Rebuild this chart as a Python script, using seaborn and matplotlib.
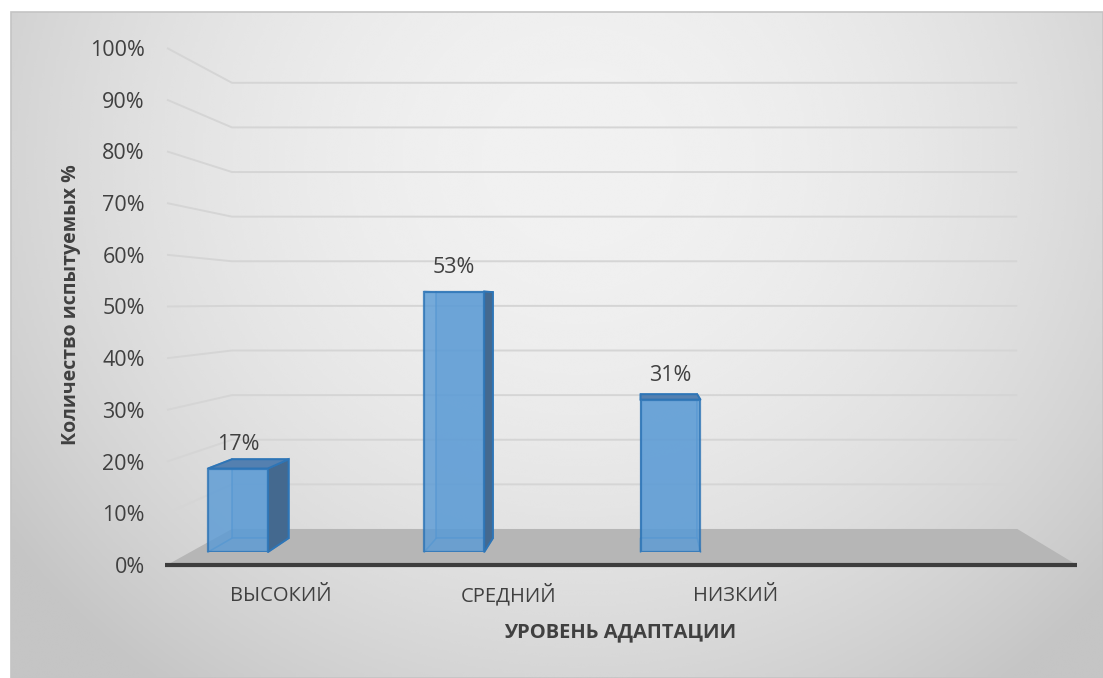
import numpy as np
import pandas as pd
import matplotlib
matplotlib.use("Agg")
import matplotlib.pyplot as plt
import seaborn as sns
from matplotlib.patches import Polygon, Rectangle

# ---------------- data ----------------
categories = ["ВЫСОКИЙ", "СРЕДНИЙ", "НИЗКИЙ"]
values = [17, 53, 31]
y_ticks = [0, 10, 20, 30, 40, 50, 60, 70, 80, 90, 100]
y_tick_labels = [f"{v}%" for v in y_ticks]
x_title = "УРОВЕНЬ АДАПТАЦИИ"
y_title = "Количество испытуемых %"
n_slots = 4  # category slots on the floor (last one empty)

# ---------------- style ----------------
sns.set_theme(style="white")
plt.rcParams["font.family"] = ["Open Sans", "DejaVu Sans"]
TXT = "#404040"

W, H = 1103, 678
fig = plt.figure(figsize=(W / 100, H / 100), dpi=100)
fig.patch.set_facecolor("white")

def frac(x0, y0, x1, y1):
    """pixel box (y down) -> figure fraction [l, b, w, h]"""
    return [x0 / W, 1 - y1 / H, (x1 - x0) / W, (y1 - y0) / H]

# perspective model (pixel coordinates, y down)
VX, VY = 641.0, 302.0          # vanishing point
S_BACK = 0.863                 # back wall scale relative to front plane
S_BAR_F = 0.951                # front of bars
S_BAR_B = 0.898                # back of bars

def proj(p, s):
    return (VX + s * (p[0] - VX), VY + s * (p[1] - VY))

# front plane extents
FX0, FX1, FY0, FY1 = 167, 1077, 48, 565

# ---------------- background axes (pixel coords) ----------------
ax_bg = fig.add_axes([0, 0, 1, 1])
ax_bg.set_xlim(0, W)
ax_bg.set_ylim(H, 0)
ax_bg.axis("off")

gx, gy = np.meshgrid(np.linspace(0, 1, 400), np.linspace(0, 1, 300))
r2 = ((gx - 0.52) / 0.62) ** 2 + ((gy - 0.22) / 0.95) ** 2
grad = np.clip(0.945 - 0.16 * r2, 0.77, 0.95)
ax_bg.imshow(grad, cmap="gray", vmin=0, vmax=1, extent=(11, W, H, 12),
             aspect="auto", zorder=0, interpolation="bicubic")
ax_bg.add_patch(Rectangle((11, 12), W - 11, H - 12, fill=False,
                          edgecolor="#c4c4c4", lw=1.2, zorder=1))

# ---------------- front plane axes (ticks + labels) ----------------
ax_front = fig.add_axes(frac(FX0, FY0, FX1, FY1))
ax_front.set_xlim(-0.5, n_slots - 0.5)
ax_front.set_ylim(0, 100)
ax_front.patch.set_alpha(0)
for sp in ax_front.spines.values():
    sp.set_visible(False)
ax_front.set_yticks(y_ticks)
ax_front.set_yticklabels(y_tick_labels, fontsize=15.5, color=TXT)
ax_front.set_xticks(range(len(categories)))
ax_front.set_xticklabels(categories, fontsize=14.5, color=TXT, va="baseline")
ax_front.tick_params(axis="y", length=0, pad=16)
ax_front.tick_params(axis="x", length=0, pad=26)
ax_front.set_xlabel(x_title, fontsize=14.5, fontweight="bold", color=TXT)
ax_front.set_ylabel(y_title, fontsize=14, fontweight="bold", color=TXT)
ax_front.xaxis.set_label_coords((620 - FX0) / (FX1 - FX0), -(622 - FY1) / (FY1 - FY0))
ax_front.yaxis.set_label_coords(-(FX0 - 81) / (FX1 - FX0), (FY1 - 305) / (FY1 - FY0))

fig.canvas.draw()

def to_px(ax, x, y):
    X, Y = ax.transData.transform((x, y))
    return (X, H - Y)

# grid lines: left wall diagonals + back wall horizontals
x_right_front = to_px(ax_front, n_slots - 0.5, 0)[0]
for v in y_ticks[1:]:
    f = to_px(ax_front, -0.5, v)
    b = proj(f, S_BACK)
    br = proj((x_right_front, f[1]), S_BACK)
    ax_bg.plot([f[0], b[0], br[0]], [f[1], b[1], br[1]], color="#d5d5d5",
               lw=1.4, zorder=2, solid_capstyle="butt")

# floor
fl = to_px(ax_front, -0.5, 0)
fr = to_px(ax_front, n_slots - 0.5, 0)
floor = [fl, fr, proj(fr, S_BACK), proj(fl, S_BACK)]
ax_bg.add_patch(Polygon(floor, closed=True, facecolor="#b6b6b6",
                        edgecolor="none", zorder=3))
ax_bg.plot([fl[0] - 2, fr[0]], [fl[1], fr[1]], color="#3d3d3d", lw=3,
           zorder=4, solid_capstyle="butt")

# ---------------- bar axes (plane of the bar fronts) ----------------
bx0, by0 = proj((FX0, FY0), S_BAR_F)
bx1, by1 = proj((FX1, FY1), S_BAR_F)
ax_bar = fig.add_axes(frac(bx0, by0, bx1, by1))
df = pd.DataFrame({"category": categories, "value": values})
sns.barplot(data=df, x="category", y="value", ax=ax_bar, width=0.277,
            color="#5b9bd5", saturation=1, alpha=0.82,
            edgecolor="#2e75b6", linewidth=1.6)
shift = 0.28
ax_bar.set_xlim(-0.5 + shift, n_slots - 0.5 + shift)
ax_bar.set_ylim(0, 100)
ax_bar.axis("off")
ax_bar.patch.set_alpha(0)
ax_bar.bar_label(ax_bar.containers[0], labels=[f"{v}%" for v in values],
                 padding=10, fontsize=15.5, color=TXT)

fig.canvas.draw()
k = S_BAR_B / S_BAR_F
for p in ax_bar.patches:
    x0, y0 = p.get_x(), p.get_y()
    x1, y1 = x0 + p.get_width(), y0 + p.get_height()
    F = [to_px(ax_bar, x0, y0), to_px(ax_bar, x1, y0),
         to_px(ax_bar, x1, y1), to_px(ax_bar, x0, y1)]
    B = [(VX + k * (q[0] - VX), VY + k * (q[1] - VY)) for q in F]
    # hidden edges seen through the translucent front
    ax_bg.add_patch(Polygon(B, closed=True, facecolor="#5b9bd5", alpha=0.35,
                            edgecolor="none", zorder=5))
    ax_bg.add_patch(Polygon(B, closed=True, fill=False, edgecolor="#3b82c4",
                            lw=1.2, alpha=0.7, zorder=6))
    for i in range(4):
        ax_bg.plot([F[i][0], B[i][0]], [F[i][1], B[i][1]], color="#3b82c4",
                   lw=1.2, alpha=0.7, zorder=6)
    # visible side faces
    if F[1][0] < VX:   # right side
        ax_bg.add_patch(Polygon([F[1], B[1], B[2], F[2]], closed=True,
                                facecolor="#44698f", edgecolor="#2e75b6",
                                lw=1.4, zorder=7))
    if F[0][0] > VX:   # left side
        ax_bg.add_patch(Polygon([F[0], B[0], B[3], F[3]], closed=True,
                                facecolor="#44698f", edgecolor="#2e75b6",
                                lw=1.4, zorder=7))
    if F[3][1] > VY + 1:   # top face (below eye level)
        ax_bg.add_patch(Polygon([F[3], F[2], B[2], B[3]], closed=True,
                                facecolor="#5480b0", edgecolor="#2e75b6",
                                lw=1.4, zorder=7))

fig.savefig("out.png", dpi=100)
